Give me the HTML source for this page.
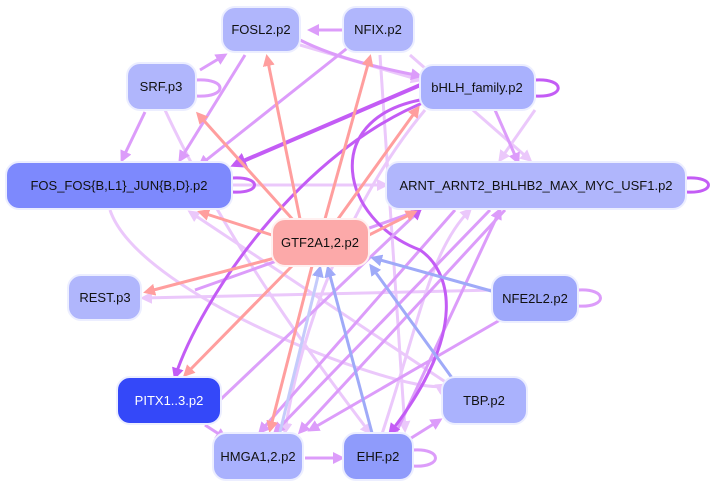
<!DOCTYPE html>
<html><head><style>
body{margin:0;background:#fff;width:716px;height:489px;overflow:hidden;font-family:"Liberation Sans",sans-serif}
</style></head><body>
<svg width="716" height="489" viewBox="0 0 716 489" xmlns="http://www.w3.org/2000/svg">
<defs>
<marker id="s" markerWidth="4" markerHeight="4" refX="3" refY="2" orient="auto" markerUnits="strokeWidth"><path d="M0,0L4,2L0,4z" fill="#ff9e9e"/></marker>
<marker id="p" markerWidth="4" markerHeight="4" refX="3" refY="2" orient="auto" markerUnits="strokeWidth"><path d="M0,0L4,2L0,4z" fill="#dc9cfa"/></marker>
<marker id="l" markerWidth="4" markerHeight="4" refX="3" refY="2" orient="auto" markerUnits="strokeWidth"><path d="M0,0L4,2L0,4z" fill="#ebc8fb"/></marker>
<marker id="d" markerWidth="4" markerHeight="4" refX="3" refY="2" orient="auto" markerUnits="strokeWidth"><path d="M0,0L4,2L0,4z" fill="#c35cf5"/></marker>
<marker id="b" markerWidth="4" markerHeight="4" refX="3" refY="2" orient="auto" markerUnits="strokeWidth"><path d="M0,0L4,2L0,4z" fill="#9faaf8"/></marker>
</defs>
<g fill="none" stroke-width="3">
<g stroke="#ebc8fb" marker-end="url(#l)">
<path d="M232,185 L386,185"/>
<path d="M300,45 L420,80"/>
<path d="M380,55 L405,430"/>
<path d="M165,110 C230,250 330,380 370,433"/>
<path d="M495,290 L143,298"/>
<path d="M450,385 L190,212"/>
<path d="M535,110 L500,160"/>
<path d="M425,110 C350,200 300,330 285,432"/>
<path d="M410,55 L530,160"/>
<path d="M110,210 C140,300 420,400 445,385"/>
<path d="M380,440 C420,320 430,250 470,210"/>
</g>
<g stroke="#dc9cfa" marker-end="url(#p)">
<path d="M145,112 L122,160"/>
<path d="M245,55 L180,160"/>
<path d="M355,42 L200,165"/>
<path d="M200,70 L225,55"/>
<path d="M195,290 L420,210"/>
<path d="M490,210 L275,432"/>
<path d="M505,210 L300,432"/>
<path d="M455,210 L260,432"/>
<path d="M500,320 L310,430"/>
<path d="M408,440 L440,420"/>
<path d="M205,425 L225,438"/>
<path d="M495,110 L518,162"/>
<path d="M305,458 L342,458"/>
<path d="M395,435 L500,210"/>
<path d="M300,40 C340,60 390,70 420,76"/>
<path d="M345,30 L310,30"/>
</g>
<g stroke="#c35cf5" marker-end="url(#d)">
<path d="M425,83 L234,165" stroke-width="4"/>
<path d="M430,100 C300,150 200,300 175,377"/>
<path d="M420,100 C320,120 340,220 420,250 C450,270 470,330 390,433"/>
<path d="M220,400 L420,210" stroke="#dca0fa"/>
</g>
<g stroke="#ff9e9e" marker-end="url(#s)">
<path d="M300,219 L267,57"/>
<path d="M325,219 L370,57"/>
<path d="M295,222 L198,114"/>
<path d="M275,236 L200,212"/>
<path d="M275,258 L146,292"/>
<path d="M292,266 L185,375"/>
<path d="M312,266 L270,430"/>
<path d="M365,237 L415,212"/>
<path d="M338,219 L418,108"/>
</g>
<g stroke="#9faaf8" marker-end="url(#b)">
<path d="M495,292 L373,258"/>
<path d="M455,382 L371,266"/>
<path d="M372,433 L328,268"/>
<path d="M280,432 L320,268" stroke="#c5cbfb"/>
</g>
<path d="M196,80 C228,78 228,98 196,96" stroke="#dc9cfa"/>
<path d="M535,80 C566,78 566,98 535,96" stroke="#c35cf5"/>
<path d="M232,178 C262,176 262,194 232,192" stroke="#c35cf5"/>
<path d="M686,178 C716,176 716,194 686,192" stroke="#c35cf5"/>
<path d="M578,290 C608,288 608,308 578,306" stroke="#dc9cfa"/>
<path d="M413,450 C443,448 443,468 413,466" stroke="#dc9cfa"/>
</g>
<g stroke="#eceeff" stroke-width="2">
<rect x="222" y="7" width="78" height="45" rx="13" fill="#b0b6fc"/>
<rect x="343" y="7" width="71" height="45" rx="13" fill="#b0b6fc"/>
<rect x="127" y="63" width="69" height="47" rx="13" fill="#b0b6fc"/>
<rect x="420" y="65" width="115" height="45" rx="13" fill="#a9b1fd"/>
<rect x="6" y="162" width="226" height="47" rx="13" fill="#7d89fd"/>
<rect x="386" y="162" width="300" height="47" rx="13" fill="#b0b6fc"/>
<rect x="272" y="219" width="97" height="47" rx="13" fill="#fca9a9" stroke="#fff0f0"/>
<rect x="68" y="275" width="73" height="45" rx="13" fill="#b0b6fc"/>
<rect x="492" y="275" width="86" height="47" rx="13" fill="#9ea8fb"/>
<rect x="117" y="377" width="104" height="47" rx="13" fill="#3448f9"/>
<rect x="442" y="377" width="85" height="47" rx="13" fill="#aab2fd"/>
<rect x="213" y="433" width="90" height="47" rx="13" fill="#a9b1fd"/>
<rect x="343" y="433" width="70" height="47" rx="13" fill="#8f9bfb"/>
</g>
<g font-size="13" text-anchor="middle" fill="#111" font-family="Liberation Sans, sans-serif">
<text x="261" y="34">FOSL2.p2</text>
<text x="378" y="34">NFIX.p2</text>
<text x="161" y="91">SRF.p3</text>
<text x="477" y="92">bHLH_family.p2</text>
<text x="119" y="190">FOS_FOS{B,L1}_JUN{B,D}.p2</text>
<text x="536" y="190">ARNT_ARNT2_BHLHB2_MAX_MYC_USF1.p2</text>
<text x="320" y="247">GTF2A1,2.p2</text>
<text x="105" y="302">REST.p3</text>
<text x="535" y="303">NFE2L2.p2</text>
<text x="169" y="405" fill="#fff">PITX1..3.p2</text>
<text x="484" y="405">TBP.p2</text>
<text x="258" y="461">HMGA1,2.p2</text>
<text x="378" y="461">EHF.p2</text>
</g>
</svg>
</body></html>
